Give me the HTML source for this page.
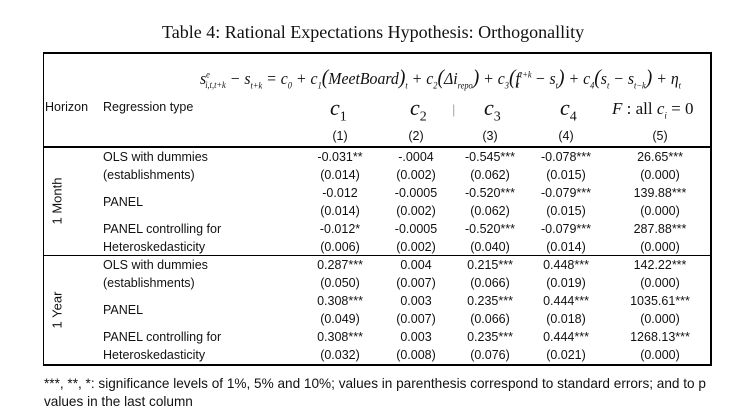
<!DOCTYPE html>
<html><head><meta charset="utf-8"><style>
body{margin:0;width:743px;height:419px;background:#fff;position:relative;overflow:hidden;font-family:"Liberation Sans",sans-serif;color:#111}
.a{position:absolute;white-space:nowrap}
.s{font-size:12.5px}
.c{position:absolute;white-space:nowrap;font-size:12.5px;transform:translateX(-50%)}
.ser{font-family:"Liberation Serif",serif}
.line{position:absolute;background:#000}
</style></head><body>
<div class="a ser" style="left:162px;top:22px;font-size:18px">Table 4: Rational Expectations Hypothesis: Orthogonallity</div>
<div class="line" style="left:43px;top:52px;width:669px;height:2px"></div>
<div class="line" style="left:43px;top:52px;width:1px;height:313px"></div>
<div class="line" style="left:710px;top:52px;width:2px;height:314px"></div>
<div class="line" style="left:43px;top:146px;width:669px;height:2px"></div>
<div class="line" style="left:43px;top:255px;width:669px;height:1px"></div>
<div class="line" style="left:43px;top:364px;width:669px;height:2px"></div>
<div class="a ser" style="left:200px;top:65px;font-size:17px;font-style:italic;transform:scaleX(0.93);transform-origin:left center">s<sup style="font-size:9px">e</sup><sub style="font-size:9px;margin-left:-5px">i,t,t+k</sub> − s<sub style="font-size:9px">t+k</sub> = c<sub style="font-size:9px">0</sub> + c<sub style="font-size:9px">1</sub><span style="font-size:21px">(</span>MeetBoard<span style="font-size:21px">)</span><sub style="font-size:9px">t</sub> + c<sub style="font-size:9px">2</sub><span style="font-size:21px">(</span>Δi<sub style="font-size:9px">repo</sub><span style="font-size:21px">)</span> + c<sub style="font-size:9px">3</sub><span style="font-size:21px">(</span>f<sup style="font-size:9px">t+k</sup><sub style="font-size:9px;margin-left:-16px">t</sub>&nbsp;&nbsp;&nbsp; − s<sub style="font-size:9px">t</sub><span style="font-size:21px">)</span> + c<sub style="font-size:9px">4</sub><span style="font-size:21px">(</span>s<sub style="font-size:9px">t</sub> − s<sub style="font-size:9px">t−k</sub><span style="font-size:21px">)</span> + η<sub style="font-size:9px">t</sub></div>
<div class="a s" style="left:45px;top:100px">Horizon</div>
<div class="a s" style="left:103px;top:100px">Regression type</div>
<div class="a ser" style="left:330px;top:95px;font-size:22px;font-style:italic">c<sub style="font-size:14px;font-style:normal">1</sub></div>
<div class="a ser" style="left:410px;top:95px;font-size:22px;font-style:italic">c<sub style="font-size:14px;font-style:normal">2</sub></div>
<div class="a" style="left:452px;top:102px;font-size:13px;color:#aaa">|</div>
<div class="a ser" style="left:484px;top:95px;font-size:22px;font-style:italic">c<sub style="font-size:14px;font-style:normal">3</sub></div>
<div class="a ser" style="left:560px;top:95px;font-size:22px;font-style:italic">c<sub style="font-size:14px;font-style:normal">4</sub></div>
<div class="a ser" style="left:612px;top:99px;font-size:17px"><i>F</i> : all <i>c<sub style="font-size:9px">i</sub></i> = 0</div>
<div class="c" style="left:340px;top:129px">(1)</div>
<div class="c" style="left:416px;top:129px">(2)</div>
<div class="c" style="left:490px;top:129px">(3)</div>
<div class="c" style="left:566px;top:129px">(4)</div>
<div class="c" style="left:660px;top:129px">(5)</div>

<div class="a" style="left:57px;top:201px;font-size:13px;transform:translate(-50%,-50%) rotate(-90deg)">1 Month</div>
<div class="a" style="left:57px;top:310px;font-size:13px;transform:translate(-50%,-50%) rotate(-90deg)">1 Year</div>

<div class="a s" style="left:103px;top:150px">OLS with dummies</div>
<div class="a s" style="left:103px;top:168px">(establishments)</div>
<div class="a s" style="left:103px;top:195px">PANEL</div>
<div class="a s" style="left:103px;top:222px">PANEL controlling for</div>
<div class="a s" style="left:103px;top:240px">Heteroskedasticity</div>
<div class="a s" style="left:103px;top:258px">OLS with dummies</div>
<div class="a s" style="left:103px;top:276px">(establishments)</div>
<div class="a s" style="left:103px;top:303px">PANEL</div>
<div class="a s" style="left:103px;top:330px">PANEL controlling for</div>
<div class="a s" style="left:103px;top:348px">Heteroskedasticity</div>

<div id="d"></div>
<script>
var rows=[
["-0.031**","-.0004","-0.545***","-0.078***","26.65***"],
["(0.014)","(0.002)","(0.062)","(0.015)","(0.000)"],
["-0.012","-0.0005","-0.520***","-0.079***","139.88***"],
["(0.014)","(0.002)","(0.062)","(0.015)","(0.000)"],
["-0.012*","-0.0005","-0.520***","-0.079***","287.88***"],
["(0.006)","(0.002)","(0.040)","(0.014)","(0.000)"],
["0.287***","0.004","0.215***","0.448***","142.22***"],
["(0.050)","(0.007)","(0.066)","(0.019)","(0.000)"],
["0.308***","0.003","0.235***","0.444***","1035.61***"],
["(0.049)","(0.007)","(0.066)","(0.018)","(0.000)"],
["0.308***","0.003","0.235***","0.444***","1268.13***"],
["(0.032)","(0.008)","(0.076)","(0.021)","(0.000)"]];
var xs=[340,416,490,566,660],h="";
rows.forEach(function(r,i){r.forEach(function(v,j){h+='<div class="c" style="left:'+xs[j]+'px;top:'+(150+i*18)+'px">'+v+'</div>';});});
document.getElementById('d').innerHTML=h;
</script>
<div class="a" style="left:44px;top:376px;font-size:13.6px">***, **, *: significance levels of 1%, 5% and 10%; values in parenthesis correspond to standard errors; and to p</div>
<div class="a" style="left:44px;top:394px;font-size:13.6px">values in the last column</div>
</body></html>
